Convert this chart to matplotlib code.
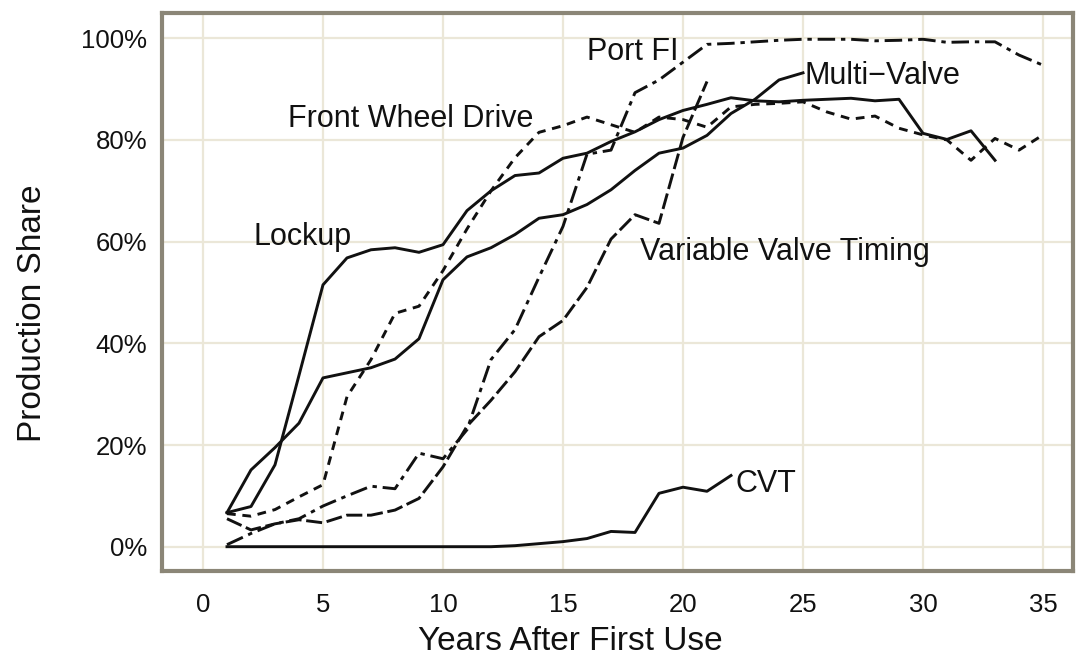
import matplotlib
matplotlib.use("Agg")
import matplotlib.pyplot as plt

plt.rcParams['font.family'] = ['Liberation Sans', 'DejaVu Sans']

# ---- data (production share, % by years after first use) ----
years_lockup = list(range(1, 34))
lockup = [6.7, 7.9, 16.1, 33.7, 51.5, 56.8, 58.4, 58.8, 57.9, 59.4, 66.1, 70.0, 73.0,
          73.5, 76.4, 77.4, 79.7, 81.6, 84.0, 85.8, 87.0, 88.3, 87.7, 87.5, 87.8, 88.0,
          88.2, 87.7, 88.0, 81.3, 80.1, 81.8, 76.0]

years_multivalve = list(range(1, 26))
multivalve = [6.7, 15.1, 19.5, 24.3, 33.2, 34.2, 35.2, 36.9, 40.9, 52.5, 57.0, 58.8, 61.4,
              64.6, 65.3, 67.3, 70.2, 74.0, 77.4, 78.4, 80.9, 85.2, 88.0, 91.8, 93.2]

years_fwd = list(range(1, 36))
fwd = [6.5, 6.0, 7.3, 9.8, 12.2, 29.5, 36.8, 45.9, 47.3, 54.3, 62.5, 70.0, 76.5, 81.5,
       82.8, 84.5, 83.0, 81.5, 84.5, 84.0, 82.5, 86.5, 87.0, 87.2, 87.5, 85.5, 84.1,
       84.7, 82.3, 81.0, 80.0, 76.0, 80.3, 78.0, 81.0]

years_portfi = list(range(1, 36))
portfi = [0.4, 2.6, 4.5, 5.5, 8.0, 10.0, 11.9, 11.4, 18.4, 17.3, 23.0, 36.8, 42.7, 53.0,
          63.0, 77.2, 78.0, 89.3, 91.8, 95.3, 98.8, 99.0, 99.3, 99.6, 99.8, 99.8, 99.8,
          99.5, 99.6, 99.8, 99.2, 99.3, 99.3, 96.7, 94.7]

years_vvt = list(range(1, 22))
vvt = [5.5, 3.3, 4.5, 5.3, 4.7, 6.2, 6.2, 7.2, 9.5, 15.7, 23.7, 28.8, 34.4, 41.3, 44.5,
       51.0, 60.5, 65.3, 63.6, 80.5, 91.5]

years_cvt = list(range(1, 23))
cvt = [0, 0, 0, 0, 0, 0, 0, 0, 0, 0, 0, 0, 0.2, 0.6, 1.0, 1.6, 3.0, 2.8, 10.5, 11.7,
       10.9, 14.0]

xticks = [0, 5, 10, 15, 20, 25, 30, 35]
yticks = [0, 20, 40, 60, 80, 100]
ytick_labels = ['0%', '20%', '40%', '60%', '80%', '100%']

labels = {
    'Port FI': (15.99, 95.7),
    'Multi\u2212Valve': (25.08, 91.0),
    'Front Wheel Drive': (3.55, 82.6),
    'Lockup': (2.09, 59.3),
    'Variable Valve Timing': (18.2, 56.3),
    'CVT': (22.2, 10.8),
}

# ---- figure ----
W, H = 1077, 656
fig = plt.figure(figsize=(W / 100, H / 100), dpi=100)
ax = fig.add_axes([162 / W, (H - 571) / H, (1073 - 162) / W, (571 - 13) / H])

ink = '#111111'
lw = 2.1
ax.plot(years_lockup, lockup, color=ink, lw=lw)
ax.plot(years_multivalve, multivalve, color=ink, lw=lw)
ax.plot(years_cvt, cvt, color=ink, lw=lw)
ax.plot(years_fwd, fwd, color=ink, lw=lw, dashes=(3.0, 2.3))
ax.plot(years_vvt, vvt, color=ink, lw=lw, dashes=(5.5, 1.6))
ax.plot(years_portfi, portfi, color=ink, lw=lw, dashes=(6.0, 2.0, 1.5, 2.0))

for txt, (x, y) in labels.items():
    ax.text(x, y, txt, fontsize=22, color='#111111', ha='left', va='baseline')

ax.set_xlim(-1.708, 36.25)
ax.set_ylim(-4.78, 104.97)
ax.set_xticks(xticks)
ax.set_yticks(yticks)
ax.set_yticklabels(ytick_labels)
ax.tick_params(axis='both', length=0, labelsize=18.5, colors='#111111')
ax.tick_params(axis='y', pad=10.5)
ax.tick_params(axis='x', pad=16.0)

ax.grid(True, color='#ebe7d8', lw=1.6)
ax.set_axisbelow(True)
for s in ax.spines.values():
    s.set_color('#8b8677')
    s.set_linewidth(3.0)

ax.set_xlabel('Years After First Use', fontsize=24, color='#111111')
ax.xaxis.set_label_coords((570 - 162) / 911, (571 - 650.5) / 558)
ax.xaxis.label.set_va('baseline')
ax.xaxis.label.set_ha('center')

ax.set_ylabel('Production Share', fontsize=24, color='#111111')
ax.yaxis.label.set_rotation_mode('anchor')
ax.yaxis.label.set_ha('center')
ax.yaxis.label.set_va('baseline')
ax.yaxis.set_label_coords((41.5 - 162) / 911, (571 - 313) / 558)

fig.savefig('out.png', dpi=100)
